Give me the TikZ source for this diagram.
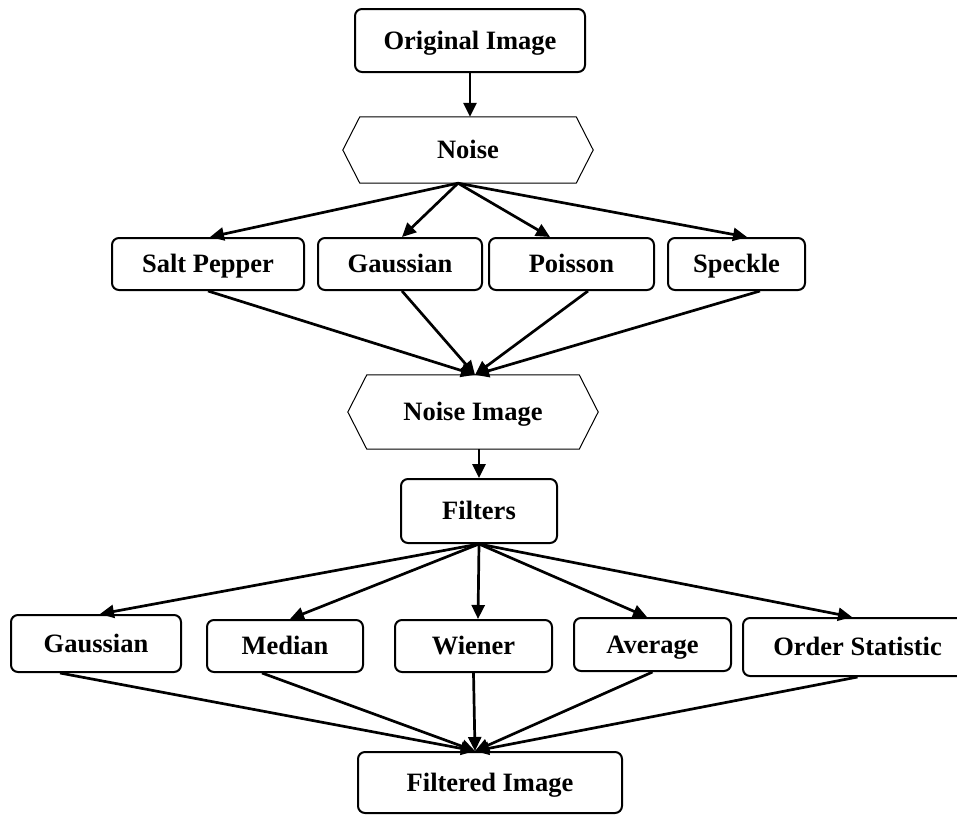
\documentclass[tikz,border=0pt]{standalone}
\usepackage{fontspec}
\setmainfont{Liberation Serif}
\usetikzlibrary{arrows.meta,calc}
\begin{document}
\begin{tikzpicture}[x=1pt,y=-1pt,
  every node/.style={font=\fontsize{26.5}{30}\selectfont\bfseries,text height=17.5pt,text depth=0pt},
  rbox/.style={draw,line width=2pt,rounded corners=7pt,inner sep=0pt},
  hexbox/.style={inner sep=0pt},
  hexline/.style={line width=1pt,line join=miter},
  arr/.style={line width=2.7pt,-{Triangle[length=14pt,width=13pt]}}]
\useasboundingbox (0,0) rectangle (957,814);
% nodes
\node[rbox,minimum width=230pt,minimum height=63pt] (orig) at (470,40.5) {Original Image};
\node[hexbox,minimum width=250pt,minimum height=66pt] (noise) at (468,150) {Noise};
\draw[hexline] (noise.west) -- ([xshift=17pt]noise.north west) -- ([xshift=-17pt]noise.north east) -- (noise.east) -- ([xshift=-17pt]noise.south east) -- ([xshift=17pt]noise.south west) -- cycle;
\node[rbox,minimum width=192pt,minimum height=52pt] (salt) at (208,264) {Salt Pepper};
\node[rbox,minimum width=164pt,minimum height=52pt] (gaussa) at (400,264) {Gaussian};
\node[rbox,minimum width=165pt,minimum height=52pt] (poisson) at (571.5,264) {Poisson};
\node[rbox,minimum width=137pt,minimum height=52pt] (speckle) at (736.5,264) {Speckle};
\node[hexbox,minimum width=250pt,minimum height=74pt] (noiseimg) at (473,412) {Noise Image};
\draw[hexline] (noiseimg.west) -- ([xshift=19pt]noiseimg.north west) -- ([xshift=-19pt]noiseimg.north east) -- (noiseimg.east) -- ([xshift=-19pt]noiseimg.south east) -- ([xshift=19pt]noiseimg.south west) -- cycle;
\node[rbox,minimum width=156pt,minimum height=64pt] (filters) at (479,511) {Filters};
\node[rbox,minimum width=170pt,minimum height=57pt] (gaussb) at (96,643.5) {Gaussian};
\node[rbox,minimum width=156pt,minimum height=52pt] (median) at (285,646) {Median};
\node[rbox,minimum width=157pt,minimum height=52pt] (wiener) at (473.5,646) {Wiener};
\node[rbox,minimum width=157pt,minimum height=53pt] (average) at (652.5,644.5) {Average};
\node[rbox,minimum width=229pt,minimum height=58pt] (order) at (857.5,647) {Order Statistic};
\node[rbox,minimum width=264pt,minimum height=61pt] (filtered) at (490,782.5) {Filtered Image};
% connectors
\draw[arr] (orig.south) -- (orig.south |- noise.north);
\draw[arr] ([xshift=-10pt]noise.south) -- ([xshift=2pt]salt.north);
\draw[arr] ([xshift=-10pt]noise.south) -- ([xshift=2pt]gaussa.north);
\draw[arr] ([xshift=-10pt]noise.south) -- ([xshift=-21.5pt]poisson.north);
\draw[arr] ([xshift=-10pt]noise.south) -- ([xshift=10.5pt]speckle.north);
\draw[arr] (salt.south) -- ([xshift=2pt]noiseimg.north);
\draw[arr] ([xshift=2pt]gaussa.south) -- ([xshift=2pt]noiseimg.north);
\draw[arr] ([xshift=16.5pt]poisson.south) -- ([xshift=2pt]noiseimg.north);
\draw[arr] ([xshift=23.5pt]speckle.south) -- ([xshift=2pt]noiseimg.north);
\draw[arr] (noiseimg.south -| filters.north) -- (filters.north);
\draw[arr] (filters.south) -- ([xshift=4pt]gaussb.north);
\draw[arr] (filters.south) -- ([xshift=5pt]median.north);
\draw[arr] (filters.south) -- ([xshift=4.5pt]wiener.north);
\draw[arr] (filters.south) -- ([xshift=-5.5pt]average.north);
\draw[arr] (filters.south) -- ([xshift=-5.5pt]order.north);
\draw[arr] ([xshift=-36pt]gaussb.south) -- ([xshift=-15pt]filtered.north);
\draw[arr] ([xshift=-23pt]median.south) -- ([xshift=-15pt]filtered.north);
\draw[arr] (wiener.south) -- ([xshift=-15pt]filtered.north);
\draw[arr] (average.south) -- ([xshift=-15pt]filtered.north);
\draw[arr] (order.south) -- ([xshift=-15pt]filtered.north);
\end{tikzpicture}
\end{document}
